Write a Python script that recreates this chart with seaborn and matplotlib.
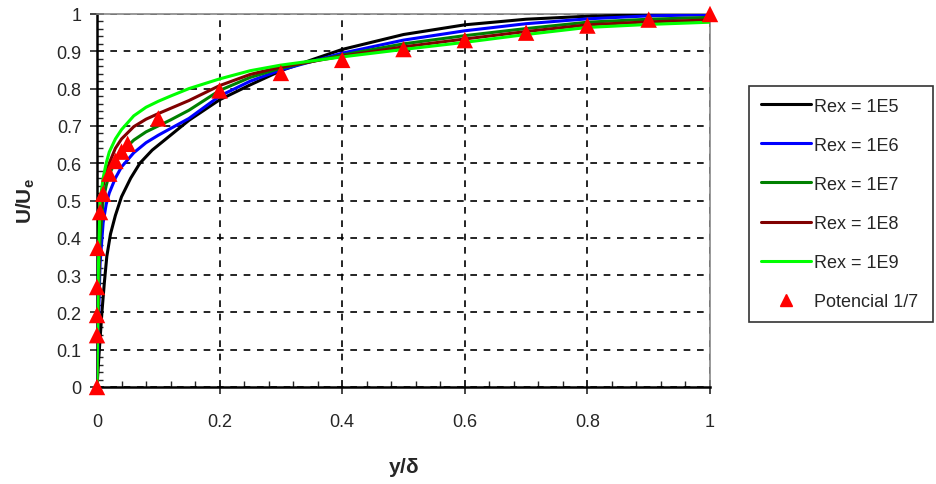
import pandas as pd
import seaborn as sns
import matplotlib.pyplot as plt
from matplotlib.lines import Line2D
from matplotlib.ticker import MultipleLocator

# velocity profiles
x_1e5 = [0, 0.003, 0.008, 0.012, 0.016, 0.022, 0.03, 0.04, 0.055, 0.07, 0.09, 0.12,
         0.15, 0.2, 0.25, 0.3, 0.35, 0.4, 0.5, 0.6, 0.7, 0.8, 0.9, 1.0]
u_1e5 = [0, 0.08, 0.2, 0.28, 0.35, 0.41, 0.46, 0.51, 0.56, 0.60, 0.635, 0.675,
         0.715, 0.77, 0.81, 0.848, 0.877, 0.905, 0.945, 0.971, 0.986, 0.994, 0.998, 1.0]

x_rex = [0, 0.002, 0.005, 0.01, 0.015, 0.02, 0.03, 0.04, 0.06, 0.08, 0.1, 0.12,
         0.15, 0.2, 0.25, 0.3, 0.4, 0.5, 0.6, 0.7, 0.8, 0.9, 1.0]
u_1e6 = [0, 0.15, 0.33, 0.44, 0.49, 0.52, 0.56, 0.59, 0.628, 0.655, 0.675, 0.693,
         0.72, 0.78, 0.82, 0.85, 0.895, 0.93, 0.955, 0.974, 0.987, 0.995, 0.998]
u_1e7 = [0, 0.2, 0.4, 0.5, 0.54, 0.57, 0.605, 0.63, 0.662, 0.684, 0.70, 0.716,
         0.742, 0.795, 0.83, 0.855, 0.89, 0.92, 0.942, 0.961, 0.978, 0.986, 0.991]
u_1e8 = [0, 0.25, 0.46, 0.54, 0.575, 0.60, 0.64, 0.665, 0.698, 0.718, 0.733, 0.747,
         0.768, 0.808, 0.838, 0.858, 0.887, 0.912, 0.933, 0.953, 0.971, 0.979, 0.984]
u_1e9 = [0, 0.3, 0.5, 0.56, 0.60, 0.63, 0.665, 0.69, 0.727, 0.75, 0.766, 0.78,
         0.80, 0.826, 0.848, 0.863, 0.885, 0.905, 0.924, 0.945, 0.964, 0.972, 0.978]

# 1/7 power law points
x_pot = [0, 0.000001, 0.00001, 0.0001, 0.001, 0.005, 0.01, 0.02, 0.03, 0.04, 0.05,
         0.1, 0.2, 0.3, 0.4, 0.5, 0.6, 0.7, 0.8, 0.9, 1.0]
u_pot = [0, 0.139, 0.193, 0.268, 0.373, 0.469, 0.518, 0.572, 0.606, 0.631, 0.652,
         0.720, 0.795, 0.842, 0.877, 0.906, 0.930, 0.950, 0.969, 0.985, 1.0]

labels = ["Rex = 1E5", "Rex = 1E6", "Rex = 1E7", "Rex = 1E8", "Rex = 1E9"]
colors = ["#000000", "#0000ff", "#008000", "#800000", "#00ff00"]

x_ticks = [0, 0.2, 0.4, 0.6, 0.8, 1.0]
x_ticklabels = ["0", "0.2", "0.4", "0.6", "0.8", "1"]
y_ticks = [0, 0.1, 0.2, 0.3, 0.4, 0.5, 0.6, 0.7, 0.8, 0.9, 1.0]
y_ticklabels = ["0", "0.1", "0.2", "0.3", "0.4", "0.5", "0.6", "0.7", "0.8", "0.9", "1"]

sns.set_style("white")
plt.rcParams["font.family"] = ["Liberation Sans", "DejaVu Sans"]
plt.rcParams["mathtext.fontset"] = "custom"
plt.rcParams["mathtext.bf"] = "Liberation Sans:bold"
plt.rcParams["mathtext.rm"] = "Liberation Sans"

fig = plt.figure(figsize=(9.37, 4.85), dpi=100)
ax = fig.add_axes([97 / 937, 1 - 388 / 485, 613 / 937, 373 / 485])

series = [(x_1e5, u_1e5), (x_rex, u_1e6), (x_rex, u_1e7), (x_rex, u_1e8), (x_rex, u_1e9)]
for (xs, us), col in zip(series, colors):
    df = pd.DataFrame({"x": xs, "u": us})
    sns.lineplot(data=df, x="x", y="u", color=col, linewidth=2.2, sort=False,
                 estimator=None, ax=ax, legend=False, zorder=3)

pot = pd.DataFrame({"x": x_pot, "u": u_pot})
sns.scatterplot(data=pot, x="x", y="u", marker="^", color="#ff0000", s=140,
                edgecolor="none", ax=ax, legend=False, zorder=4, clip_on=False)

ax.set_xlim(0, 1)
ax.set_ylim(0, 1)
ax.set_xticks(x_ticks)
ax.set_xticklabels(x_ticklabels)
ax.set_yticks(y_ticks)
ax.set_yticklabels(y_ticklabels)
ax.xaxis.set_minor_locator(MultipleLocator(0.04))
ax.yaxis.set_minor_locator(MultipleLocator(0.02))

ax.grid(True, which="major", color="black", linestyle=(0, (4, 4)), linewidth=1.2)
ax.tick_params(axis="x", which="major", direction="inout", length=10, width=1.2,
               labelsize=13, pad=14, bottom=True)
ax.tick_params(axis="y", which="major", direction="inout", length=10, width=1.2,
               labelsize=13, pad=6, left=True)
ax.tick_params(which="minor", direction="in", length=4, width=1, bottom=True, left=True)

for s in ["left", "bottom"]:
    ax.spines[s].set_color("black")
    ax.spines[s].set_linewidth(1.8)
for s in ["top", "right"]:
    ax.spines[s].set_color("#888888")
    ax.spines[s].set_linewidth(1.2)

ax.set_xlabel(r"$\mathbf{y/\delta}$", fontsize=15, labelpad=18)
ax.set_ylabel(r"$\mathbf{U/U_e}$", fontsize=15, labelpad=14)

handles = [Line2D([], [], color=c, linewidth=2.2) for c in colors]
handles.append(Line2D([], [], color="#ff0000", marker="^", linestyle="none", markersize=9))
leg = fig.legend(handles, labels + ["Potencial 1/7"], loc="upper left",
                 bbox_to_anchor=(749 / 937, 0, 184 / 937, 1 - 87 / 485), mode="expand",
                 borderaxespad=0, handlelength=2.8, handletextpad=0.15,
                 labelspacing=1.22, borderpad=0.65, frameon=True, fancybox=False,
                 prop={"family": "Liberation Sans", "size": 13})
leg.get_frame().set_edgecolor("black")
leg.get_frame().set_linewidth(1.2)

fig.savefig("out.png", dpi=100)
